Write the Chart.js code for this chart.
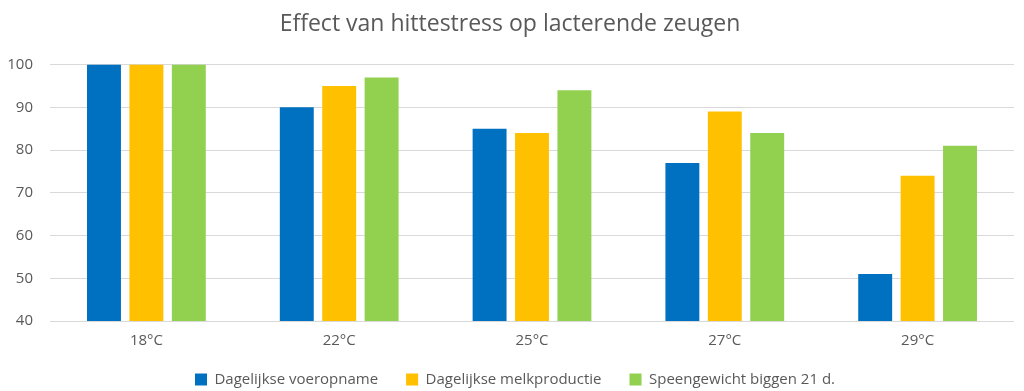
<!DOCTYPE html>
<html>
<head>
<meta charset="utf-8">
<script src="https://cdn.jsdelivr.net/npm/chart.js@4"></script>
<style>
  html, body { margin: 0; padding: 0; background: #fff; }
  #wrap { width: 1024px; height: 391px; position: relative; }
</style>
</head>
<body>
<div id="wrap"><canvas id="barChart"></canvas></div>
<script>
const categories = ['18°C', '22°C', '25°C', '27°C', '29°C'];
const voeropname = [100, 90, 85, 77, 51];
const melkproductie = [100, 95, 84, 89, 74];
const speengewicht = [100, 97, 94, 84, 81];
const yTicks = { min: 40, max: 100, step: 10 };

const font = "'Open Sans', 'Liberation Sans', sans-serif";
const textColor = '#595959';

// legend sits closer to the axis than Chart.js would put it
const compactLegend = {
  id: 'compactLegend',
  afterInit(chart) {
    const legend = chart.legend;
    if (!legend) return;
    const fit = legend.fit;
    legend.fit = function () {
      fit.call(this);
      this.height -= 19;
    };
    const innerDraw = legend._draw;
    legend._draw = function () {
      const c = this.ctx;
      c.save();
      c.translate(5, -13);
      innerDraw.call(this);
      c.restore();
    };
  },
};

const ctx = document.getElementById('barChart').getContext('2d');
new Chart(ctx, {
  type: 'bar',
  data: {
    labels: categories,
    datasets: [
      { label: 'Dagelijkse voeropname', data: voeropname, backgroundColor: '#0070C0' },
      { label: 'Dagelijkse melkproductie', data: melkproductie, backgroundColor: '#FFC000' },
      { label: 'Speengewicht biggen 21 d.', data: speengewicht, backgroundColor: '#92D050' },
    ],
  },
  plugins: [compactLegend],
  options: {
    responsive: true,
    maintainAspectRatio: false,
    animation: false,
    layout: { padding: { left: 6, right: 10, top: 8, bottom: 0 } },
    datasets: {
      bar: { categoryPercentage: 0.66, barPercentage: 0.8 },
    },
    plugins: {
      title: {
        display: true,
        text: 'Effect van hittestress op lacterende zeugen',
        color: textColor,
        font: { family: font, size: 23, weight: 'normal' },
        padding: { top: 3, bottom: 26 },
      },
      legend: {
        position: 'bottom',
        labels: {
          color: textColor,
          font: { family: font, size: 15 },
          boxWidth: 12,
          boxHeight: 12,
          padding: 28,
        },
      },
      tooltip: { enabled: false },
    },
    scales: {
      x: {
        afterFit(scale) { scale.height = 36; },
        grid: { display: false, drawTicks: false },
        border: { display: false },
        ticks: { color: textColor, font: { family: font, size: 15 }, padding: 11 },
      },
      y: {
        afterFit(scale) { scale.width = 44; },
        min: yTicks.min,
        max: yTicks.max,
        ticks: {
          stepSize: yTicks.step,
          color: textColor,
          font: { family: font, size: 15 },
          padding: 17,
        },
        grid: { color: '#d9d9d9', drawTicks: false },
        border: { display: false },
      },
    },
  },
});
</script>
</body>
</html>
